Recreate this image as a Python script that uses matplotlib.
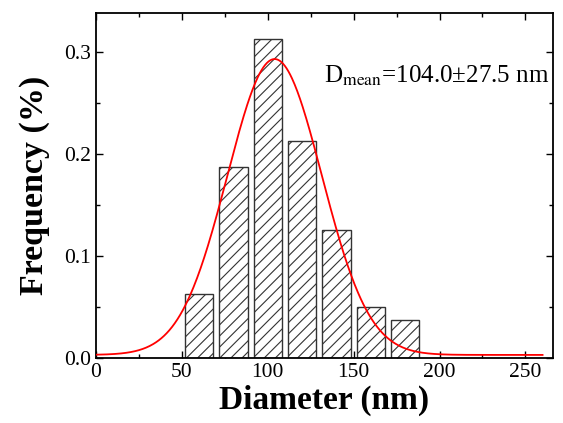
import numpy as np
import matplotlib
matplotlib.use('Agg')
import matplotlib.pyplot as plt
from matplotlib.ticker import MultipleLocator

plt.rcParams['font.family'] = ['Liberation Serif', 'DejaVu Serif']
plt.rcParams['mathtext.fontset'] = 'stix'
plt.rcParams['hatch.linewidth'] = 0.8

# histogram bins (nm) and frequencies
bin_centers = [60, 80, 100, 120, 140, 160, 180]
freq = [0.0625, 0.1875, 0.3125, 0.2125, 0.125, 0.05, 0.0375]
bar_width = 16.5

# gaussian fit parameters
d_mean = 104.0
d_sd = 27.5
y0 = 0.003
amp = 0.29

xfit = np.linspace(0, 260, 500)
yfit = y0 + amp*np.exp(-(xfit - d_mean)**2/(2.0*d_sd**2))

fig = plt.figure(figsize=(5.63, 4.23), dpi=100)
ax = fig.add_axes([0.1705, 0.1537, 0.8115, 0.8153])

ax.bar(bin_centers, freq, width=bar_width, color='white', edgecolor='#333333',
       linewidth=1.0, hatch='///', zorder=2)
ax.plot(xfit, yfit, color='red', lw=1.3, zorder=3)

ax.set_xlim(0, 266)
ax.set_ylim(0, 0.338)
ax.xaxis.set_major_locator(MultipleLocator(50))
ax.xaxis.set_minor_locator(MultipleLocator(25))
ax.yaxis.set_major_locator(MultipleLocator(0.1))
ax.yaxis.set_minor_locator(MultipleLocator(0.05))
ax.tick_params(which='both', direction='in', top=True, right=True, width=1.0)
ax.tick_params(which='major', length=5, labelsize=15.5)
ax.tick_params(which='minor', length=3)
ax.yaxis.set_major_formatter(matplotlib.ticker.FormatStrFormatter('%.1f'))
for s in ax.spines.values():
    s.set_linewidth(1.3)

ax.set_xlabel('Diameter (nm)', fontsize=24, fontweight='bold', labelpad=2)
ax.set_ylabel('Frequency (%)', fontsize=24.5, fontweight='bold', labelpad=10)

ax.text(133, 0.27, 'D$_{\\mathrm{mean}}$=104.0\u00b127.5 nm', fontsize=18)

fig.savefig('out.png', dpi=100)
